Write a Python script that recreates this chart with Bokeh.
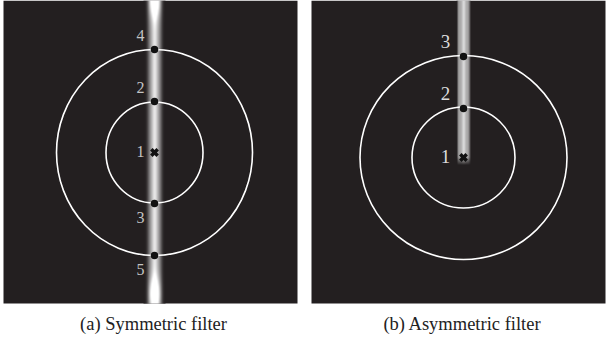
import numpy as np
from bokeh.plotting import figure
from bokeh.layouts import row
from bokeh.models import Range1d
from bokeh.core.properties import value
from bokeh.embed import file_html
from bokeh.resources import INLINE

# ---- data (pixel units relative to the filter centre) ----
captions = ["(a) Symmetric filter", "(b) Asymmetric filter"]

sym_labels = ["1", "2", "3", "4", "5"]
sym_pos = [0, 51, -51, 103, -103]          # points along the filter axis
sym_ring_w = [97, 196]
sym_ring_h = [101, 206]

asym_labels = ["1", "2", "3"]
asym_pos = [0, 49, 101]
asym_ring_w = [103, 207]
asym_ring_h = [101, 204]

BG = (35, 31, 32)
SERIF = value("Liberation Serif")


def beam_image(width_px, height_px, kind):
    xs = np.linspace(-width_px / 2, width_px / 2, int(width_px * 2))
    ys = np.linspace(0, 1, int(height_px))
    X, Y = np.meshgrid(xs, ys)
    if kind == "sym":
        prof = 0.6 * np.exp(-(X / 7.0) ** 4) + 0.3 * np.exp(-(X / 2.8) ** 2)
        end = np.exp(-((Y - 0.0) / 0.05) ** 2) + np.exp(-((Y - 0.97) / 0.05) ** 2)
        wide = 0.25 * np.exp(-(X / 5.0) ** 2) * end
        inten = np.clip(prof * (1 + 0.45 * end) + wide, 0, 1)
    else:
        edge = np.exp(-(np.maximum(np.abs(X) - 6.0, 0) / 0.6) ** 2)
        prof = (0.55 + 0.12 * np.exp(-(X / 4.5) ** 2) + 0.18 * np.exp(-(X / 1.6) ** 2)) * edge
        prof = prof * np.where(np.abs(X) > 5.0, 0.78, 1.0)
        fade = np.clip((1.0 - Y) / 0.05, 0, 1)   # Y=1 is bottom end
        inten = prof * fade
    r = (BG[0] + (255 - BG[0]) * inten).astype(np.uint32)
    g = (BG[1] + (255 - BG[1]) * inten).astype(np.uint32)
    b = (BG[2] + (255 - BG[2]) * inten).astype(np.uint32)
    a = np.full_like(r, 255)
    img = (a << 24) | (b << 16) | (g << 8) | r
    return img[::-1]  # row 0 at bottom


def make_panel(x0, y_top, panel, beam, ring_w, ring_h, pos, labels, lab_dx, lab_dy, lab_size, lab_color, caption, kind):
    p = figure(width=304, height=343, output_backend="svg", toolbar_location=None,
               x_range=Range1d(x0, x0 + 304), y_range=Range1d(y_top - 343, y_top),
               min_border=0, background_fill_color="white", border_fill_color="white")
    p.axis.visible = False
    p.grid.visible = False
    p.outline_line_color = None
    l, r, t, btm = panel
    p.quad(left=[l], right=[r], top=[t], bottom=[btm], fill_color="#231f20", line_color=None)
    bw, bt, bb = beam
    img = beam_image(bw, bt - bb, kind)
    p.image_rgba(image=[img], x=-bw / 2, y=bb, dw=bw, dh=bt - bb)
    p.ellipse(x=[0] * len(ring_w), y=[0] * len(ring_w), width=ring_w, height=ring_h,
              fill_color=None, line_color="white", line_width=1.6)
    pts = [v for v in pos if v != 0]
    p.scatter(x=[0] * len(pts), y=pts, size=7.5, fill_color="#111111", line_color=None)
    p.scatter(x=[0], y=[0], marker="x", size=9, line_color="#111111", line_width=3.5)
    lx = [lab_dx for _ in pos]
    ly = [v + (lab_dy if v > 0 else (-lab_dy if v < 0 else 1)) for v in pos]
    p.text(x=lx, y=ly, text=labels, text_font=SERIF, text_font_size=lab_size,
           text_color=lab_color, text_align="center", text_baseline="middle")
    p.text(x=[-1], y=[y_top - 323], text=[caption], text_font=SERIF, text_font_size="18.5px",
           text_color="#222222", text_align="center", text_baseline="middle")
    return p


p1 = make_panel(-154, 152, (-151, 143, 152, -151), (22, 152, -151),
                sym_ring_w, sym_ring_h, sym_pos, sym_labels, -14, 14, "16px", "#c4c4c4", captions[0], "sym")
p2 = make_panel(-159, 157, (-152, 142, 157, -146), (14, 157, -8),
                asym_ring_w, asym_ring_h, asym_pos, asym_labels, -18, 15, "19px", "#dcdcdc", captions[1], "asym")

p = row(p1, p2, spacing=0)
open("out.html", "w").write(file_html(p, INLINE))
